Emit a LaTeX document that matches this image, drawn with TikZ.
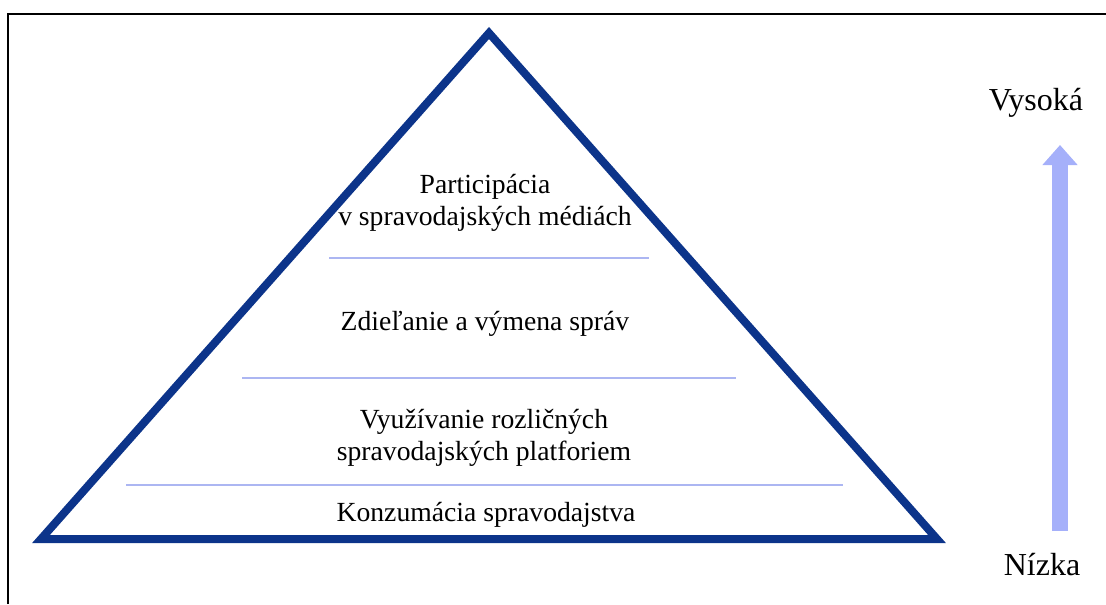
\documentclass[tikz,border=0pt]{standalone}
\usepackage{fontspec}
\setmainfont{Liberation Serif}
\usetikzlibrary{arrows.meta, positioning}

\definecolor{pyramidblue}{RGB}{12,52,138}
\definecolor{dividerblue}{RGB}{172,182,242}
\definecolor{scaleblue}{RGB}{165,176,250}

\begin{document}
\begin{tikzpicture}[
  x=0.75pt, y=-0.75pt,
  level/.style={align=center, inner sep=0pt, anchor=base,
                font=\fontsize{20.75}{23.6}\selectfont},
  side/.style={inner sep=0pt, anchor=base,
               font=\fontsize{24}{28}\selectfont},
  divider/.style={draw=dividerblue, line width=1.5pt},
  scalearrow/.style={draw=scaleblue, line width=11.5pt,
                     -{Triangle[width=25.5pt, length=15pt]}},
]
\useasboundingbox (0,0) rectangle (1106,604);

% ---- ramik ----
\draw[line width=1.5pt] (8,604) -- (8,14) -- (1106,14);

% ---- pyramida ----
\coordinate (apex)  at (489,33);
\coordinate (left)  at (41,539);
\coordinate (right) at (937,539);
\draw[pyramidblue, line width=6pt, line join=miter] (apex) -- (right) -- (left) -- cycle;

\draw[divider] (329,258) -- (649,258);
\draw[divider] (242,378) -- (736,378);
\draw[divider] (126,485) -- (843,485);

% base = posledny riadok
\node[level] (particip) at (485,225) {Participácia\\v spravodajských médiách};
\node[level] (sharing)  at (485,330) {Zdieľanie a výmena správ};
\node[level] (usage)    at (484,460) {Využívanie rozličných\\spravodajských platforiem};
\node[level] (consume)  at (486,521) {Konzumácia spravodajstva};

% ---- skala ----
\node[side] (high) at (1036,110) {Vysoká};
\node[side] (low)  at (1042,575) {Nízka};

\coordinate (arrbottom) at (1060,531);
\coordinate (arrtop)    at (1060,145);
\draw[scalearrow] (arrbottom) -- (arrtop);

\end{tikzpicture}
\end{document}
